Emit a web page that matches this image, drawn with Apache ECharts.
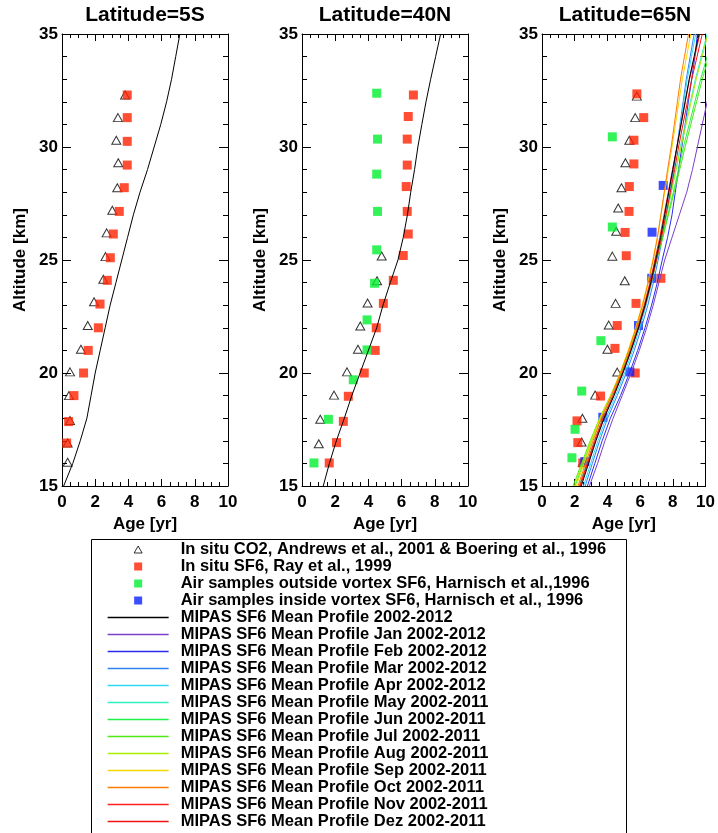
<!DOCTYPE html>
<html><head><meta charset="utf-8">
<script src="https://cdn.jsdelivr.net/npm/echarts@6/dist/echarts.min.js"></script>
<style>html,body{margin:0;padding:0;background:#fff}#c{width:718px;height:833px}</style>
</head><body><div id="c"></div>
<script>
// ---------------- data ----------------
const panelTitles = ['Latitude=5S', 'Latitude=40N', 'Latitude=65N'];
const xTicks = [0, 2, 4, 6, 8, 10];
const yTicks = [15, 20, 25, 30, 35];
const altKm = [15,16,17,18,19,20,21,22,23,24,25,26,27,28,29,30,31,32,33,34,35];

// [age (yr), altitude (km)]
const co2_5S = [[3.80,32.3],[3.37,31.3],[3.27,30.3],[3.39,29.3],[3.33,28.2],[3.03,27.2],[2.69,26.2],[2.62,25.15],[2.49,24.15],[1.93,23.15],[1.55,22.1],[1.14,21.05],[0.48,20.05],[0.42,19.0],[0.48,17.9],[0.34,16.9],[0.34,16.05]];
const sf6_5S = [[3.93,32.3],[3.93,31.3],[3.93,30.25],[3.93,29.2],[3.75,28.2],[3.45,27.15],[3.09,26.15],[2.91,25.1],[2.73,24.1],[2.29,23.05],[2.19,22.0],[1.58,21.0],[1.30,20.0],[0.72,19.0],[0.40,17.85],[0.28,16.9]];
const mean_5S = [0.1,0.65,1.1,1.5,1.75,2.0,2.3,2.6,2.9,3.25,3.6,3.95,4.3,4.7,5.15,5.55,5.95,6.3,6.6,6.85,7.1];

const co2_40N = [[4.80,25.18],[4.52,24.08],[3.95,23.1],[3.51,22.08],[3.37,21.05],[2.71,20.05],[1.93,19.02],[1.10,17.95],[1.01,16.87]];
const sf6_40N = [[6.71,32.3],[6.40,31.35],[6.34,30.35],[6.34,29.2],[6.28,28.25],[6.34,27.15],[6.40,26.15],[6.10,25.2],[5.50,24.1],[4.90,23.08],[4.47,22.0],[4.41,21.0],[3.75,20.0],[2.79,18.97],[2.49,17.86],[2.08,16.92],[1.64,16.02]];
const out_40N = [[4.50,32.38],[4.55,30.35],[4.50,28.8],[4.55,27.15],[4.50,25.45],[4.37,23.97],[3.92,22.35],[3.92,21.02],[3.09,19.7],[1.59,17.95],[0.72,16.02]];
const mean_40N = [1.28,1.65,2.07,2.55,3.0,3.5,4.0,4.5,4.88,5.32,5.78,6.1,6.35,6.55,6.78,6.98,7.22,7.47,7.75,8.05,8.35];

const co2_65N = [[5.80,32.25],[5.70,31.3],[5.34,30.3],[5.10,29.3],[4.86,28.2],[4.66,27.3],[4.54,26.27],[4.30,25.17],[5.06,24.08],[4.50,23.08],[4.08,22.12],[4.0,21.05],[4.60,20.04],[3.25,19.02],[2.47,18.0],[2.42,16.95],[2.49,16.05]];
const sf6_65N = [[5.80,32.35],[6.22,31.3],[5.62,30.3],[5.62,29.25],[5.34,28.25],[5.32,27.15],[5.08,26.22],[5.15,25.19],[7.27,24.19],[5.75,23.08],[4.60,22.1],[4.46,21.09],[5.70,20.0],[3.58,18.98],[2.14,17.88],[2.19,16.92],[2.49,16.02]];
const out_65N = [[4.30,30.45],[4.30,26.46],[3.60,21.43],[2.43,19.2],[2.02,17.51],[1.83,16.25]];
const in_65N = [[7.41,28.3],[6.73,26.23],[6.71,24.19],[5.90,22.1],[5.37,20.05],[3.72,18.04],[2.62,16.08]];

const mean_65N = [2.4,2.85,3.3,3.8,4.4,4.95,5.45,5.9,6.3,6.65,6.95,7.25,7.5,7.75,8.0,8.25,8.5,8.75,9.0,9.3,9.6];
const jan_65N = [2.9,3.4,3.85,4.35,4.9,5.45,5.95,6.4,6.8,7.15,7.5,7.95,8.4,8.85,9.2,9.5,9.8,10.1,10.4,10.65,10.9];
const feb_65N = [2.78,3.23,3.68,4.18,4.8,5.35,5.85,6.3,6.7,7.05,7.35,7.68,7.95,8.15,8.35,8.55,8.75,8.95,9.15,9.35,9.5];
const mar_65N = [2.64,3.08,3.52,4.01,4.6,5.15,5.64,6.08,6.47,6.81,7.1,7.37,7.6,7.83,8.05,8.25,8.44,8.63,8.82,9.06,9.3];
const apr_65N = [2.54,2.98,3.42,3.91,4.5,5.05,5.54,5.98,6.37,6.71,7.0,7.29,7.53,7.77,8.0,8.25,8.46,8.67,8.88,9.14,9.4];
const may_65N = [2.26,2.73,3.2,3.72,4.33,4.9,5.41,5.88,6.3,6.67,7.0,7.33,7.62,7.91,8.19,8.45,8.76,9.07,9.38,9.74,10.1];
const jun_65N = [2.02,2.53,3.04,3.6,4.25,4.85,5.38,5.86,6.3,6.68,7.0,7.37,7.7,8.03,8.35,8.65,9.0,9.35,9.7,10.1,10.5];
const jul_65N = [1.9,2.42,2.95,3.52,4.19,4.83,5.37,5.86,6.3,6.68,7.0,7.39,7.73,8.08,8.42,8.75,9.1,9.45,9.8,10.2,10.6];
const aug_65N = [1.98,2.48,2.99,3.54,4.19,4.8,5.33,5.81,6.24,6.62,6.95,7.3,7.6,7.9,8.2,8.5,8.81,9.12,9.43,9.79,10.15];
const sep_65N = [2.1,2.57,3.05,3.57,4.2,4.77,5.27,5.72,6.12,6.47,6.77,7.05,7.28,7.5,7.73,7.95,8.16,8.37,8.58,8.84,9.1];
const oct_65N = [2.2,2.66,3.12,3.63,4.24,4.8,5.3,5.75,6.15,6.5,6.8,7.06,7.27,7.47,7.68,7.9,8.09,8.28,8.47,8.71,8.96];
const nov_65N = [2.3,2.76,3.21,3.72,4.33,4.9,5.4,5.85,6.25,6.6,6.9,7.2,7.46,7.72,7.98,8.25,8.51,8.76,9.02,9.34,9.65];
const dez_65N = [2.34,2.8,3.26,3.77,4.39,4.93,5.44,5.9,6.32,6.68,7.0,7.31,7.58,7.85,8.11,8.35,8.62,8.89,9.16,9.48,9.8];

const N_CO2 = 'In situ CO2, Andrews et al., 2001 & Boering et al., 1996';
const N_SF6 = 'In situ SF6, Ray et al., 1999';
const N_OUT = 'Air samples outside vortex SF6, Harnisch et al.,1996';
const N_IN  = 'Air samples inside vortex SF6, Harnisch et al., 1996';
const N_MEAN = 'MIPAS SF6 Mean Profile 2002-2012';
const monthNames = [
  'MIPAS SF6 Mean Profile Jan 2002-2012','MIPAS SF6 Mean Profile Feb 2002-2012',
  'MIPAS SF6 Mean Profile Mar 2002-2012','MIPAS SF6 Mean Profile Apr 2002-2012',
  'MIPAS SF6 Mean Profile May 2002-2011','MIPAS SF6 Mean Profile Jun 2002-2011',
  'MIPAS SF6 Mean Profile Jul 2002-2011','MIPAS SF6 Mean Profile Aug 2002-2011',
  'MIPAS SF6 Mean Profile Sep 2002-2011','MIPAS SF6 Mean Profile Oct 2002-2011',
  'MIPAS SF6 Mean Profile Nov 2002-2011','MIPAS SF6 Mean Profile Dez 2002-2011'];
const monthAges = [jan_65N,feb_65N,mar_65N,apr_65N,may_65N,jun_65N,jul_65N,aug_65N,sep_65N,oct_65N,nov_65N,dez_65N];
const monthColors = ['#7b3fc9','#2b2bf0','#2f82f2','#2fd6f6','#30f0c2','#22f04a','#4ee812','#a6f000','#f6d600','#ff7a00','#ff2020','#f01414'];

// ---------------- styling ----------------
const FONT = "'Liberation Sans', Arial, Helvetica, sans-serif";
const C_RED = '#ff2200', C_GREEN = '#00f030', C_BLUE = '#0a22ff';
const gridLefts = [62, 302, 542];
const GT = 34, GW = 166, GH = 452;
// legend icons: small centred marker inside a 61x8 icon box (corner points keep the box size)
const ICON_TRI = 'path://M0,0L0,0M61,8L61,8M30.5,0.5L34.5,7.5L26.5,7.5Z';
const ICON_SQ = 'path://M0,0L0,0M61,8L61,8M26.5,0L34.5,0L34.5,8L26.5,8Z';

function pairs(ages) { return ages.map((a, i) => [a, altKm[i]]); }

const grids = [], xAxes = [], yAxes = [], titles = [];
gridLefts.forEach((l, i) => {
  grids.push({ left: l, top: GT, width: GW, height: GH, show: false });
  titles.push({ text: panelTitles[i], left: l + GW / 2, top: 5, textAlign: 'center', padding: 0,
    textStyle: { fontFamily: FONT, fontSize: 21, fontWeight: 'bold', color: '#000' } });
  const lbl = { fontFamily: FONT, fontSize: 17, fontWeight: 'bold', color: '#000' };
  const xBase = { gridIndex: i, type: 'value', min: xTicks[0], max: xTicks[xTicks.length - 1], interval: 2,
    axisLine: { show: true, onZero: false, lineStyle: { color: '#000', width: 1 } },
    axisTick: { show: true, inside: true, length: 7, lineStyle: { color: '#000', width: 1 } },
    minorTick: { show: true, splitNumber: 4, length: 4, lineStyle: { color: '#000', width: 1 } },
    splitLine: { show: false }, minorSplitLine: { show: false } };
  xAxes.push(Object.assign({}, xBase, { position: 'bottom',
    axisLabel: Object.assign({ margin: 8 }, lbl),
    name: 'Age [yr]', nameLocation: 'middle', nameGap: 26, nameTextStyle: lbl }));
  xAxes.push(Object.assign({}, xBase, { position: 'top', axisLabel: { show: false } }));
  const yBase = { gridIndex: i, type: 'value', min: yTicks[0], max: yTicks[yTicks.length - 1], interval: 5,
    axisLine: { show: true, onZero: false, lineStyle: { color: '#000', width: 1 } },
    axisTick: { show: true, inside: true, length: 9, lineStyle: { color: '#000', width: 1 } },
    minorTick: { show: true, splitNumber: 5, length: 5, lineStyle: { color: '#000', width: 1 } },
    splitLine: { show: false }, minorSplitLine: { show: false } };
  yAxes.push(Object.assign({}, yBase, { position: 'left',
    axisLabel: Object.assign({ margin: 4 }, lbl),
    name: 'Altitude [km]', nameLocation: 'middle', nameGap: 33, nameTextStyle: lbl }));
  yAxes.push(Object.assign({}, yBase, { position: 'right', axisLabel: { show: false } }));
});

const series = [];
function scatter(name, data, gi, sym, color) {
  const tri = sym === 'triangle';
  series.push({ name, type: 'scatter', xAxisIndex: gi * 2, yAxisIndex: gi * 2, data,
    symbol: sym, symbolSize: tri ? [9, 8] : 9, z: tri ? 3 : 4,
    itemStyle: tri ? { color: 'rgba(255,255,255,0)', borderColor: '#000', borderWidth: 1 } : { color },
    emphasis: { disabled: true }, silent: true });
}
function line(name, ages, gi, color) {
  series.push({ name, type: 'line', xAxisIndex: gi * 2, yAxisIndex: gi * 2, data: pairs(ages),
    symbol: 'none', showSymbol: false, clip: true, z: 5,
    lineStyle: { color, width: 1 }, itemStyle: { color },
    emphasis: { disabled: true }, silent: true });
}
// 5S
scatter(N_CO2, co2_5S, 0, 'triangle');
scatter(N_SF6, sf6_5S, 0, 'rect', C_RED);
// 40N
scatter(N_CO2, co2_40N, 1, 'triangle');
scatter(N_SF6, sf6_40N, 1, 'rect', C_RED);
scatter(N_OUT, out_40N, 1, 'rect', C_GREEN);
// 65N
scatter(N_CO2, co2_65N, 2, 'triangle');
scatter(N_SF6, sf6_65N, 2, 'rect', C_RED);
scatter(N_OUT, out_65N, 2, 'rect', C_GREEN);
scatter(N_IN, in_65N, 2, 'rect', C_BLUE);
line(N_MEAN, mean_5S, 0, '#000');
line(N_MEAN, mean_40N, 1, '#000');
monthNames.forEach((n, k) => line(n, monthAges[k], 2, monthColors[k]));
line(N_MEAN, mean_65N, 2, '#000');

const legendData = [
  { name: N_CO2, icon: ICON_TRI, itemStyle: { borderWidth: 1, borderColor: '#000', color: 'rgba(255,255,255,0)' } },
  { name: N_SF6, icon: ICON_SQ, itemStyle: { borderWidth: 0 } },
  { name: N_OUT, icon: ICON_SQ, itemStyle: { borderWidth: 0 } },
  { name: N_IN, icon: ICON_SQ, itemStyle: { borderWidth: 0 } },
  { name: N_MEAN, itemStyle: { opacity: 0 }, lineStyle: { width: 1.3 } }
].concat(monthNames.map(n => ({ name: n, itemStyle: { opacity: 0 }, lineStyle: { width: 1.3 } })));

const chart = echarts.init(document.getElementById('c'), null, { renderer: 'canvas' });
chart.setOption({
  animation: false,
  backgroundColor: '#fff',
  title: titles,
  grid: grids,
  xAxis: xAxes,
  yAxis: yAxes,
  legend: {
    orient: 'vertical', left: 107, top: 541, padding: 0, itemGap: 0,
    itemWidth: 61, itemHeight: 8, selectedMode: false, symbolKeepAspect: false,
    textStyle: { fontFamily: FONT, fontSize: 16.5, fontWeight: 'bold', color: '#000', lineHeight: 17, padding: [0, 0, 0, 7] },
    data: legendData
  },
  graphic: [{ type: 'rect', silent: true, z: -10,
    shape: { x: 91.5, y: 539.5, width: 535, height: 300 },
    style: { fill: 'none', stroke: '#000', lineWidth: 1 } }],
  series
});
</script></body></html>
